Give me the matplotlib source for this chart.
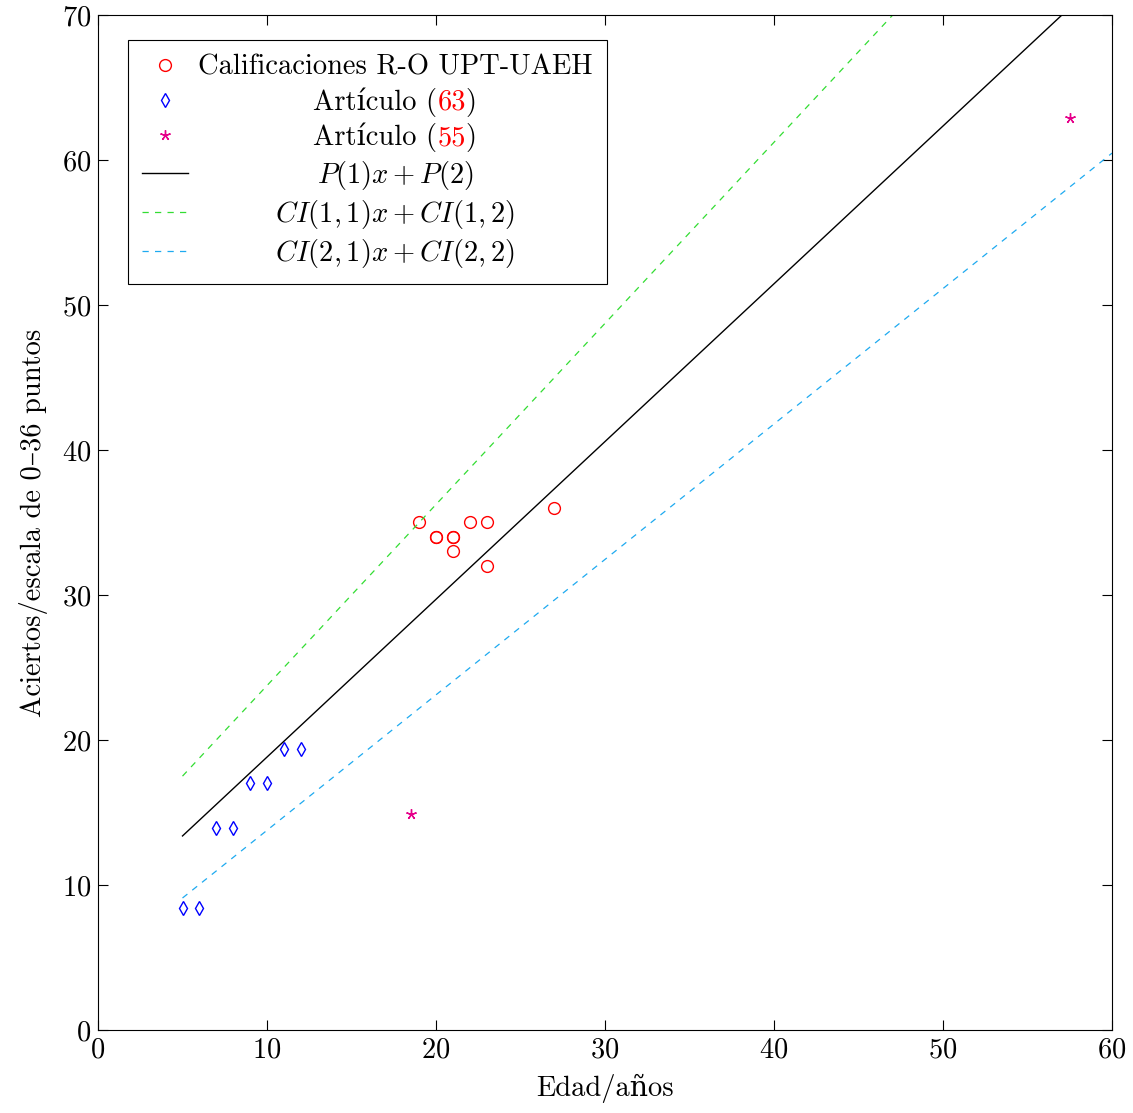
import numpy as np
import matplotlib
matplotlib.use('Agg')
import matplotlib.pyplot as plt
from matplotlib.transforms import Affine2D

plt.rcParams['font.family'] = ['cmr10', 'DejaVu Serif']
plt.rcParams['mathtext.fontset'] = 'cm'
plt.rcParams['axes.formatter.use_mathtext'] = True
FS = 20.5
plt.rcParams['font.size'] = FS

# calificaciones R-O UPT-UAEH
edad_upt = [19, 20, 20, 21, 21, 21, 22, 23, 23, 27]
aciertos_upt = [35, 34, 34, 34, 34, 33, 35, 35, 32, 36]

# articulo (63)
edad_63 = [5, 6, 7, 8, 9, 10, 11, 12]
aciertos_63 = [8.4, 8.4, 13.9, 13.9, 17.0, 17.0, 19.4, 19.4]

# articulo (55)
edad_55 = [18.5, 57.5]
aciertos_55 = [14.9, 62.9]

# ajuste lineal y bandas
P = [1.088, 7.94]
CI1 = [1.249, 11.26]
CI2 = [0.934, 4.43]
x_fit = np.array([5, 60])

fig = plt.figure(figsize=(11.33, 11.13), dpi=100)
ax = fig.add_axes([0.0865, 0.0746, 0.895, 0.912])

ax.plot(edad_upt, aciertos_upt, 'o', mfc='none', mec='red', ms=8.5, mew=1.0,
        label='Calificaciones R-O UPT-UAEH')
ax.plot(edad_63, aciertos_63, 'd', mfc='none', mec='blue', ms=7.5, mew=1.0,
        label='Artículo (63)')
ax.plot(edad_55, aciertos_55, ls='none', marker=(5, 2, 0), color='#e6008a', ms=7.5, mew=1.0,
        label='Artículo (55)')
ax.plot(x_fit, P[0] * x_fit + P[1], color='black', lw=1.0, label='$P(1)x+P(2)$')
ax.plot(x_fit, CI1[0] * x_fit + CI1[1], color='#33dd33', lw=0.9, dashes=(5, 5),
        label='$CI(1,1)x+CI(1,2)$')
ax.plot(x_fit, CI2[0] * x_fit + CI2[1], color='#1eaaf0', lw=0.9, dashes=(5, 5),
        label='$CI(2,1)x+CI(2,2)$')

ax.set_xlim(0, 60)
ax.set_ylim(0, 70)
ax.set_xticks(range(0, 61, 10))
ax.set_yticks(range(0, 71, 10))
ax.tick_params(direction='in', length=7, top=True, right=True, labelsize=FS, pad=5)
ax.set_xlabel('Edad/años', fontsize=FS, labelpad=8)
ax.set_ylabel('Aciertos/escala de 0–36 puntos', fontsize=FS, labelpad=10)

leg = ax.legend(loc='upper left', bbox_to_anchor=(0.0296, 0.975), fontsize=FS, fancybox=False,
                edgecolor='black', framealpha=1, handlelength=1.6, handletextpad=0.35,
                labelspacing=0.22, borderpad=0.5, borderaxespad=0, numpoints=1)
leg.get_frame().set_linewidth(0.8)

# center the label texts, split off the red reference numbers
fig.canvas.draw()
r = fig.canvas.get_renderer()
texts = leg.get_texts()
widths = [t.get_window_extent(r).width for t in texts]
wmax = max(widths)
for t, w in zip(texts, widths):
    t.set_transform(t.get_transform() + Affine2D().translate((wmax - w) / 2, 0))
fig.canvas.draw()
for t in texts[1:3]:
    s = t.get_text()
    ref = s[s.index('(') + 1:s.index(')')]
    pre = s[:s.index('(') + 1]
    tmp = fig.text(0, 0, pre, fontsize=FS)
    wpre = tmp.get_window_extent(r).width
    tmp2 = fig.text(0, 0, pre + ref, fontsize=FS)
    wref = tmp2.get_window_extent(r).width
    tmp.remove()
    tmp2.remove()
    t.set_text(pre)
    tr = t.get_transform()
    fig.text(0, 0, ref, fontsize=FS, color='red', transform=tr + Affine2D().translate(wpre, 0),
             va=t.get_va(), ha='left')
    fig.text(0, 0, ')', fontsize=FS, color='black', transform=tr + Affine2D().translate(wref, 0),
             va=t.get_va(), ha='left')

fig.savefig('out.png', dpi=100)
